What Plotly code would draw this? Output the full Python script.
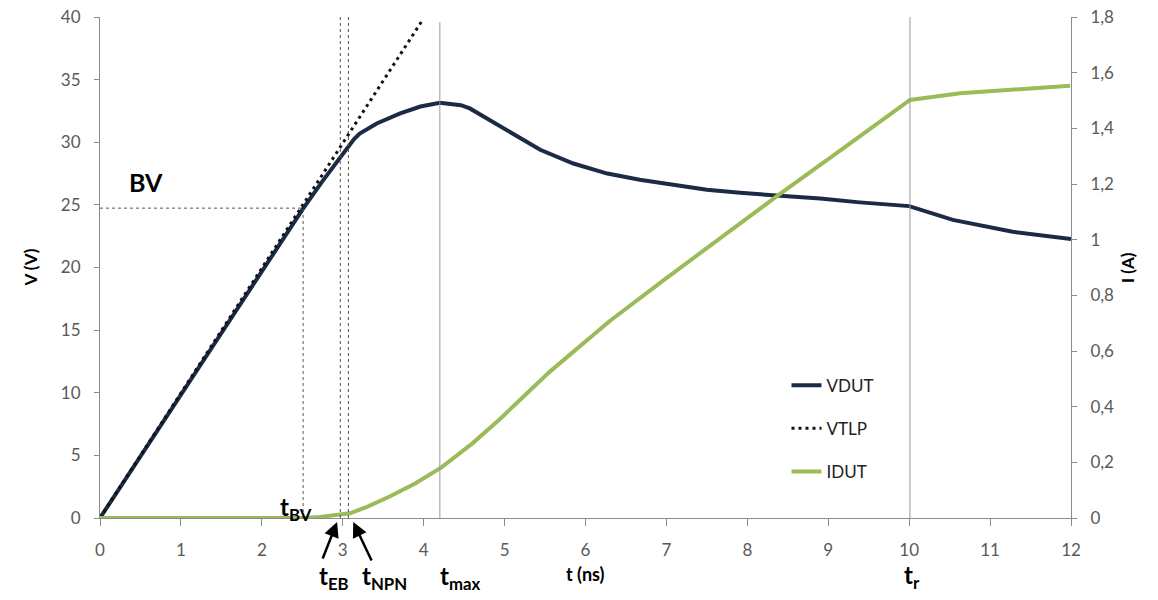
import plotly.graph_objects as go

# VDUT (V)
t_vdut = [0, 0.5, 1.0, 1.5, 2.0, 2.51, 2.75, 2.97, 3.07, 3.14, 3.21, 3.42, 3.71, 3.96, 4.2,
          4.46, 4.57, 5.03, 5.44, 5.85, 6.27, 6.67, 7.08, 7.5, 7.91, 8.28, 8.9, 9.39, 10.0,
          10.54, 11.28, 12.0]
v_dut = [0, 4.9, 9.9, 14.8, 19.7, 24.7, 26.9, 28.8, 29.7, 30.25, 30.7, 31.5, 32.3, 32.85, 33.15,
         32.96, 32.7, 31.0, 29.4, 28.3, 27.5, 27.0, 26.6, 26.2, 25.96, 25.8, 25.5, 25.2, 24.9,
         23.8, 22.85, 22.27]

# VTLP (V)
t_vtlp = [0, 0.5, 1.0, 1.5, 2.0, 2.5, 3.0, 3.5, 3.98]
v_tlp = [0, 5.0, 10.0, 15.0, 20.0, 25.0, 30.0, 35.0, 39.7]

# IDUT (A)
t_idut = [0, 1.0, 2.0, 2.51, 2.72, 2.97, 3.09, 3.3, 3.58, 3.9, 4.22, 4.61, 4.94, 5.56, 6.30,
          7.0, 7.91, 8.37, 9.27, 10.01, 10.63, 11.99]
i_dut = [0, 0, 0, 0, 0.004, 0.011, 0.017, 0.04, 0.077, 0.125, 0.182, 0.27, 0.355, 0.526, 0.708,
         0.862, 1.059, 1.157, 1.346, 1.502, 1.526, 1.553]

# characteristic instants (ns) and breakdown voltage (V)
t_bv, t_eb, t_npn, t_max, t_r = 2.51, 2.97, 3.07, 4.2, 10.01
bv = 24.74

y_ticks = [0, 0.2, 0.4, 0.6, 0.8, 1.0, 1.2, 1.4, 1.6, 1.8]
y_ticktext = ['0', '0,2', '0,4', '0,6', '0,8', '1', '1,2', '1,4', '1,6', '1,8']

FONT = 'Lato'
AX = '#8c8c8c'
TXT = '#595959'

fig = go.Figure()
fig.add_trace(go.Scatter(x=t_vdut, y=v_dut, mode='lines', name='VDUT',
                         line=dict(color='#1b2a45', width=4), legendgroup='a'))
fig.add_trace(go.Scatter(x=t_vtlp, y=v_tlp, mode='lines', name='VTLP',
                         line=dict(color='#111111', width=3, dash='3px,4px'), legendgroup='b'))
fig.add_trace(go.Scatter(x=t_idut, y=i_dut, mode='lines', name='IDUT', yaxis='y2',
                         line=dict(color='#9bbb59', width=4), legendgroup='c'))

dotted = dict(color='#555555', width=1, dash='dot')
solid = dict(color='#999999', width=1)
fig.add_shape(type='line', x0=t_bv, x1=t_bv, y0=0, y1=bv, xref='x', yref='y', line=dotted)
fig.add_shape(type='line', x0=0, x1=t_bv, y0=bv, y1=bv, xref='x', yref='y', line=dotted)
fig.add_shape(type='line', x0=t_eb, x1=t_eb, y0=0, y1=40, xref='x', yref='y', line=dotted)
fig.add_shape(type='line', x0=t_npn, x1=t_npn, y0=0, y1=40, xref='x', yref='y', line=dotted)
fig.add_shape(type='line', x0=t_max, x1=t_max, y0=0, y1=39.6, xref='x', yref='y', line=solid)
fig.add_shape(type='line', x0=t_r, x1=t_r, y0=0, y1=40, xref='x', yref='y', line=solid)

lab = dict(family=FONT, size=24, color='black')
fig.add_annotation(x=0.57, y=26.8, xref='x', yref='y', text='<b>BV</b>', showarrow=False,
                   font=dict(family=FONT, size=25, color='black'))
fig.add_annotation(x=2.42, y=-0.018, xref='x', yref='paper', text='<b>t<sub>BV</sub></b>',
                   showarrow=False, font=lab)
fig.add_annotation(x=2.89, y=-0.156, xref='x', yref='paper', text='<b>t<sub>EB</sub></b>',
                   showarrow=False, font=lab)
fig.add_annotation(x=3.51, y=-0.156, xref='x', yref='paper', text='<b>t<sub>NPN</sub></b>',
                   showarrow=False, font=lab)
fig.add_annotation(x=4.46, y=-0.156, xref='x', yref='paper', text='<b>t<sub>max</sub></b>',
                   showarrow=False, font=lab)
fig.add_annotation(x=10.04, y=-0.154, xref='x', yref='paper', text='<b>t<sub>r</sub></b>',
                   showarrow=False, font=lab)
# arrows to t_EB and t_NPN
fig.add_annotation(x=2.93, y=0, xref='x', yref='paper', yshift=-4, text='', showarrow=True,
                   ax=-15, ay=38, arrowhead=2, arrowsize=1.2, arrowwidth=2.5, arrowcolor='black')
fig.add_annotation(x=3.13, y=0, xref='x', yref='paper', yshift=-4, text='', showarrow=True,
                   ax=19, ay=40, arrowhead=2, arrowsize=1.2, arrowwidth=2.5, arrowcolor='black')

# axis titles
fig.add_annotation(x=6, y=-0.138, xref='x', yref='paper', text='<b>t (ns)</b>', showarrow=False,
                   font=dict(family=FONT, size=18, color='black'))
fig.add_annotation(x=-0.084, y=0.5, xref='paper', yref='paper', text='<b>V (V)</b>',
                   textangle=-90, showarrow=False, font=dict(family=FONT, size=17, color='black'))
fig.add_annotation(x=1.071, y=0.5, xref='paper', yref='paper', text='<b>I (A)</b>',
                   textangle=-90, showarrow=False, font=dict(family=FONT, size=17, color='black'))

# page body adds an 8px offset, so the figure is drawn 8px smaller
fig.update_layout(
    width=1150, height=592,
    margin=dict(l=92, r=87, t=9, b=82, autoexpand=False),
    plot_bgcolor='white', paper_bgcolor='white',
    font=dict(family=FONT, size=17, color=TXT),
    xaxis=dict(range=[0, 12], dtick=1, showgrid=False, zeroline=False, showline=True,
               linecolor=AX, ticks='outside', ticklen=7, tickcolor=AX, ticklabelstandoff=10,
               automargin=False, ticklabeloverflow='allow'),
    yaxis=dict(range=[0, 40], tickvals=[0, 5, 10, 15, 20, 25, 30, 35, 40], showgrid=False,
               zeroline=False, showline=True, linecolor=AX, ticks='outside', ticklen=5,
               tickcolor=AX, ticklabelstandoff=10, automargin=False, ticklabeloverflow='allow'),
    yaxis2=dict(range=[0, 1.8], overlaying='y', side='right', tickvals=y_ticks,
                ticktext=y_ticktext, showgrid=False, zeroline=False, showline=True,
                linecolor=AX, ticks='outside', ticklen=5, tickcolor=AX, ticklabelstandoff=10,
                automargin=False, ticklabeloverflow='allow'),
    legend=dict(x=0.707, y=0.3, xanchor='left', yanchor='top', bgcolor='rgba(0,0,0,0)',
                font=dict(family=FONT, size=17, color='#222222'), tracegroupgap=18),
    showlegend=True,
)

fig.write_html('out.html')
